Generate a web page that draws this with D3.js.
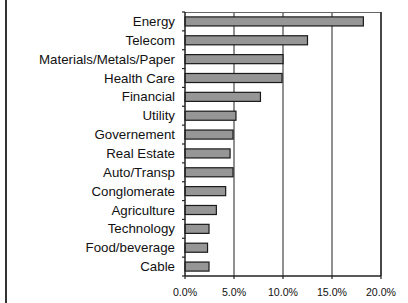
<!DOCTYPE html>
<html lang="en">
<head>
<meta charset="UTF-8">
<title>Sector bars</title>
<script src="https://d3js.org/d3.v7.min.js"></script>
<style>
	body { margin: 0; background: #fff; }
	svg text { font-family: "Liberation Sans", Arial, sans-serif; fill: #111; }
	.cat-label { font-size: 13.3px; }
	.tick-label { font-size: 10.6px; }
</style>
</head>
<body>
<svg id="chart" width="408" height="303"></svg>
<script>
const width = 408, height = 303;
const margin = {top: 12, right: 27, bottom: 27, left: 185};

// sectors, top to bottom
const sectors = ["Energy", "Telecom", "Materials/Metals/Paper", "Health Care", "Financial",
	"Utility", "Governement", "Real Estate", "Auto/Transp", "Conglomerate",
	"Agriculture", "Technology", "Food/beverage", "Cable"];
const shares = [18.2, 12.5, 10.0, 9.9, 7.7, 5.2, 4.9, 4.6, 4.9, 4.15, 3.2, 2.45, 2.3, 2.45];
const xTicks = [0, 5, 10, 15, 20];

const svg = d3.select("#chart");

// outer frame line on the left
svg.append("line")
	.attr("x1", 6).attr("x2", 6)
	.attr("y1", 0).attr("y2", height)
	.attr("stroke", "#333").attr("stroke-width", 2);

const x = d3.scaleLinear().domain([0, 20]).range([margin.left, width - margin.right]);
const y = d3.scaleBand().domain(sectors).range([margin.top, height - margin.bottom]).paddingInner(0.52).paddingOuter(0.26);

const plotTop = margin.top, plotBottom = height - margin.bottom;

// gridlines
svg.selectAll(".grid")
	.data(xTicks.slice(1, -1))
	.enter()
	.append("line")
	.attr("class", "grid")
	.attr("x1", d => x(d)).attr("x2", d => x(d))
	.attr("y1", plotTop).attr("y2", plotBottom)
	.attr("stroke", "#222").attr("stroke-width", 1);

// plot frame: top and right
svg.append("line")
	.attr("x1", x(0)).attr("x2", x(20))
	.attr("y1", plotTop + 0.5).attr("y2", plotTop + 0.5)
	.attr("stroke", "#666").attr("stroke-width", 1);
svg.append("line")
	.attr("x1", x(20)).attr("x2", x(20))
	.attr("y1", plotTop).attr("y2", plotBottom)
	.attr("stroke", "#333").attr("stroke-width", 1.8);

// bars
svg.selectAll(".bar")
	.data(sectors)
	.enter()
	.append("rect")
	.attr("class", "bar")
	.attr("x", x(0))
	.attr("y", d => y(d))
	.attr("width", (d, i) => x(shares[i]) - x(0))
	.attr("height", y.bandwidth())
	.attr("fill", "#969696")
	.attr("stroke", "#1a1a1a")
	.attr("stroke-width", 1.2);

// left axis with ticks at band boundaries
const bounds = d3.range(sectors.length + 1).map(i => plotTop + i * (plotBottom - plotTop) / sectors.length);
svg.selectAll(".ytick")
	.data(bounds)
	.enter()
	.append("line")
	.attr("x1", x(0) - 3).attr("x2", x(0))
	.attr("y1", d => d).attr("y2", d => d)
	.attr("stroke", "#222").attr("stroke-width", 1.2);
svg.append("line")
	.attr("x1", x(0)).attr("x2", x(0))
	.attr("y1", plotTop).attr("y2", plotBottom)
	.attr("stroke", "#222").attr("stroke-width", 1.5);

// bottom axis
svg.append("line")
	.attr("x1", x(0)).attr("x2", x(20))
	.attr("y1", plotBottom).attr("y2", plotBottom)
	.attr("stroke", "#222").attr("stroke-width", 1.5);
svg.selectAll(".xtick")
	.data(xTicks)
	.enter()
	.append("line")
	.attr("x1", d => x(d)).attr("x2", d => x(d))
	.attr("y1", plotBottom).attr("y2", plotBottom + 3)
	.attr("stroke", "#222").attr("stroke-width", 1.2);

svg.selectAll(".tick-label")
	.data(xTicks)
	.enter()
	.append("text")
	.attr("class", "tick-label")
	.attr("x", d => x(d))
	.attr("y", plotBottom + 20)
	.attr("text-anchor", "middle")
	.text(d => d.toFixed(1) + "%");

// category labels
svg.selectAll(".cat-label")
	.data(sectors)
	.enter()
	.append("text")
	.attr("class", "cat-label")
	.attr("x", x(0) - 10)
	.attr("y", d => y(d) + y.bandwidth() / 2 + 4.5)
	.attr("text-anchor", "end")
	.text(d => d);
</script>
</body>
</html>
